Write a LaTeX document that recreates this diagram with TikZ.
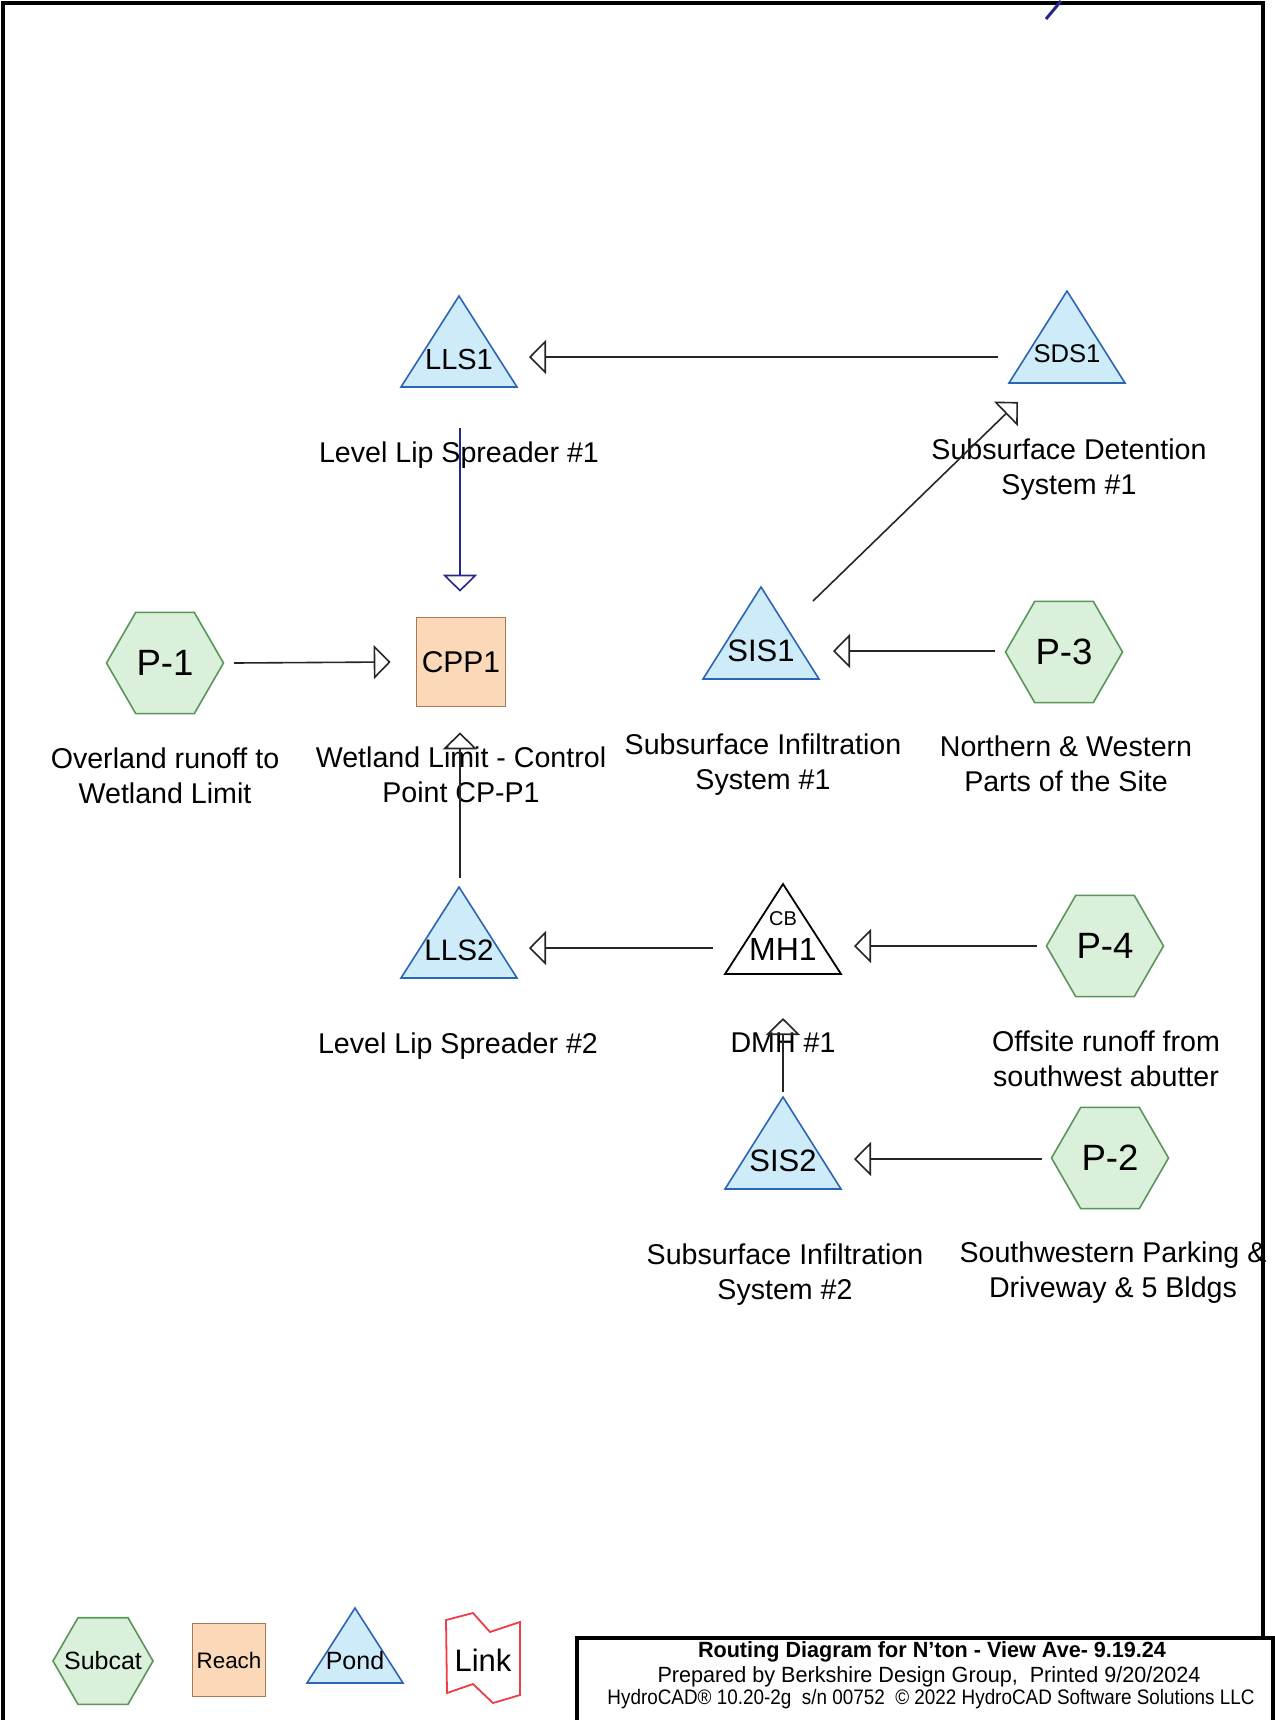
\documentclass[tikz,border=0pt]{standalone}
\usepackage{fontspec}
\setmainfont{Liberation Sans}
\usetikzlibrary{arrows.meta,shapes.geometric,calc,backgrounds}
\definecolor{subcatfill}{RGB}{218,240,218}
\definecolor{subcatline}{RGB}{90,150,90}
\definecolor{reachfill}{RGB}{250,216,184}
\definecolor{reachline}{RGB}{170,120,80}
\definecolor{pondfill}{RGB}{205,235,248}
\definecolor{pondline}{RGB}{45,100,180}
\definecolor{linkred}{RGB}{240,60,70}
\definecolor{navyline}{RGB}{40,40,140}
\newcommand\drawtri[5]{\draw[#2] ($(#1)+(-#3,#4)$) -- ($(#1)+(0,-#5)$) -- ($(#1)+(#3,#4)$) -- cycle;}
\tikzset{
  txt/.style={inner sep=0pt},
  subcat/.style={regular polygon, regular polygon sides=6, draw=subcatline, fill=subcatfill,
    line width=0.8pt, inner sep=0pt, minimum size=58.5pt, font=\fontsize{18.3}{20}\selectfont},
  reachbox/.style={rectangle, draw=reachline, fill=reachfill, line width=0.8pt,
    minimum size=44.5pt, inner sep=0pt, font=\fontsize{15}{18}\selectfont},
  pondtri/.style={draw=pondline, fill=pondfill, line width=0.8pt, line join=miter},
  mhtri/.style={draw=black, fill=white, line width=0.9pt, line join=miter},
  lab/.style={align=center, inner sep=0pt, font=\fontsize{14.3}{17.5}\selectfont},
  flow/.style={line width=0.8pt, draw=black!85,
    -{Triangle[open, length=8.5pt, width=17pt, line width=0.8pt]}}
}
\begin{document}
\begin{tikzpicture}[x=0.5pt,y=-0.5pt]
\useasboundingbox (0,0) rectangle (1275,1720);

% node texts
\node[txt, font=\fontsize{14.5}{17}\selectfont] (LLS1) at (459,360) {LLS1};
\node[txt, font=\fontsize{12.8}{15}\selectfont] (SDS1) at (1067,354) {SDS1};
\node[txt, font=\fontsize{15.5}{18}\selectfont] (SIS1) at (761,651) {SIS1};
\node[txt, font=\fontsize{14.8}{18}\selectfont] (LLS2) at (459,950) {LLS2};
\node[txt, font=\fontsize{16}{18}\selectfont] (MH1) at (783,949) {MH1};
\node[txt, font=\fontsize{10}{12}\selectfont] (CB) at (783,919) {CB};
\node[txt, font=\fontsize{15.5}{18}\selectfont] (SIS2) at (783,1161) {SIS2};
\node[reachbox] (CPP1) at (461,662) {CPP1};
\node[subcat] (P1) at (165,663) {P-1};
\node[subcat] (P3) at (1064,652) {P-3};
\node[subcat] (P4) at (1105,946) {P-4};
\node[subcat] (P2) at (1110,1158) {P-2};

% legend
\node[subcat, minimum size=50pt, font=\fontsize{12.5}{14}\selectfont] (legsub) at (103,1661) {\makebox[0pt]{Subcat}};
\node[reachbox, minimum size=36.5pt, font=\fontsize{11.2}{13}\selectfont] (legreach) at (229,1660) {\makebox[0pt]{Reach}};
\node[txt, font=\fontsize{12.5}{14}\selectfont] (legpond) at (355,1661) {Pond};
\node[txt, font=\fontsize{15.5}{18}\selectfont] (leglink) at (483,1660) {Link};

\begin{scope}[on background layer]
  \fill[white] (0,0) rectangle (1275,1720);
  \drawtri{LLS1}{pondtri}{58}{27}{64}
  \drawtri{SDS1}{pondtri}{58}{29}{63}
  \drawtri{SIS1}{pondtri}{58}{28}{64}
  \drawtri{LLS2}{pondtri}{58}{28}{63}
  \drawtri{MH1}{mhtri}{58}{25}{65}
  \drawtri{SIS2}{pondtri}{58}{28}{64}
  \drawtri{legpond}{pondtri}{48}{22}{53}
\end{scope}

% link legend shape
\draw[linkred, line width=0.9pt, line join=miter]
  (446,1620) -- (473,1613) -- (490,1632) -- (520,1622) -- (520,1695)
  -- (493,1703) -- (473,1684) -- (447,1693) -- cycle;

% labels
\node[lab] (L1) at (459,455) {Level Lip Spreader \#1};
\node[lab] (L2) at (1069,470) {Subsurface Detention\\System \#1};
\node[lab] (L3) at (165,776) {Overland runoff to\\Wetland Limit};
\node[lab] (L4) at (461,775) {Wetland Limit - Control\\Point CP-P1};
\node[lab] (L5) at (763,765) {Subsurface Infiltration\\System \#1};
\node[lab] (L6) at (1066,764) {Northern \& Western\\Parts of the Site};
\node[lab] (L7) at (458,1046) {Level Lip Spreader \#2};
\node[lab] (L8) at (783,1043) {DMH \#1};
\node[lab] (L9) at (1106,1059) {Offsite runoff from\\southwest abutter};
\node[lab] (L10) at (785,1275) {Subsurface Infiltration\\System \#2};
\node[lab] (L11) at (1113,1273) {Southwestern Parking \&\\Driveway \& 5 Bldgs};

% connectors
\draw[flow] ($(SDS1)+(-69,3)$) -- ($(LLS1)+(70,-3)$);
\draw[flow, draw=navyline] ($(LLS1)+(1,68)$) -- ($(CPP1.north)+(-1,-25)$);
\draw[flow] ($(P1)+(69,0)$) -- ($(CPP1.west)+(-25,0)$);
\draw[flow] ($(LLS2)+(1,-72)$) -- ($(CPP1.south)+(-1,25)$);
\draw[flow] ($(P3)+(-69,-1)$) -- ($(SIS1)+(72,0)$);
\draw[flow] ($(SIS1)+(52,-50)$) -- ($(SDS1)+(-49,48)$);
\draw[flow] ($(MH1)+(-70,-1)$) -- ($(LLS2)+(70,-2)$);
\draw[flow] ($(P4)+(-68,0)$) -- ($(MH1)+(71,-3)$);
\draw[flow] ($(SIS2)+(0,-69)$) -- ($(MH1)+(0,69)$);
\draw[flow] ($(P2)+(-68,1)$) -- ($(SIS2)+(71,-2)$);

% frame and stray stroke
\draw[line width=2pt] (3,1725) -- (3,3) -- (1263,3) -- (1263,1640);
\draw[navyline, line width=1.5pt] (1046,19) -- (1061,1);

% title block
\draw[line width=2pt, fill=white] (577,1725) -- (577,1638) -- (1273,1638) -- (1273,1725);
\node[txt] (T1) at (932,1652) {\resizebox{234pt}{\height}{\fontsize{11}{13}\selectfont\bfseries Routing Diagram for N'ton - View Ave- 9.19.24}};
\node[txt] (T2) at (929,1677) {\resizebox{271.5pt}{\height}{\fontsize{11}{13}\selectfont Prepared by Berkshire Design Group,\ \ Printed 9/20/2024}};
\node[txt] (T3) at (931,1699) {\resizebox{323.5pt}{\height}{\fontsize{10.5}{12}\selectfont HydroCAD® 10.20-2g\ \ s/n 00752\ \ © 2022 HydroCAD Software Solutions LLC}};
\end{tikzpicture}
\end{document}
